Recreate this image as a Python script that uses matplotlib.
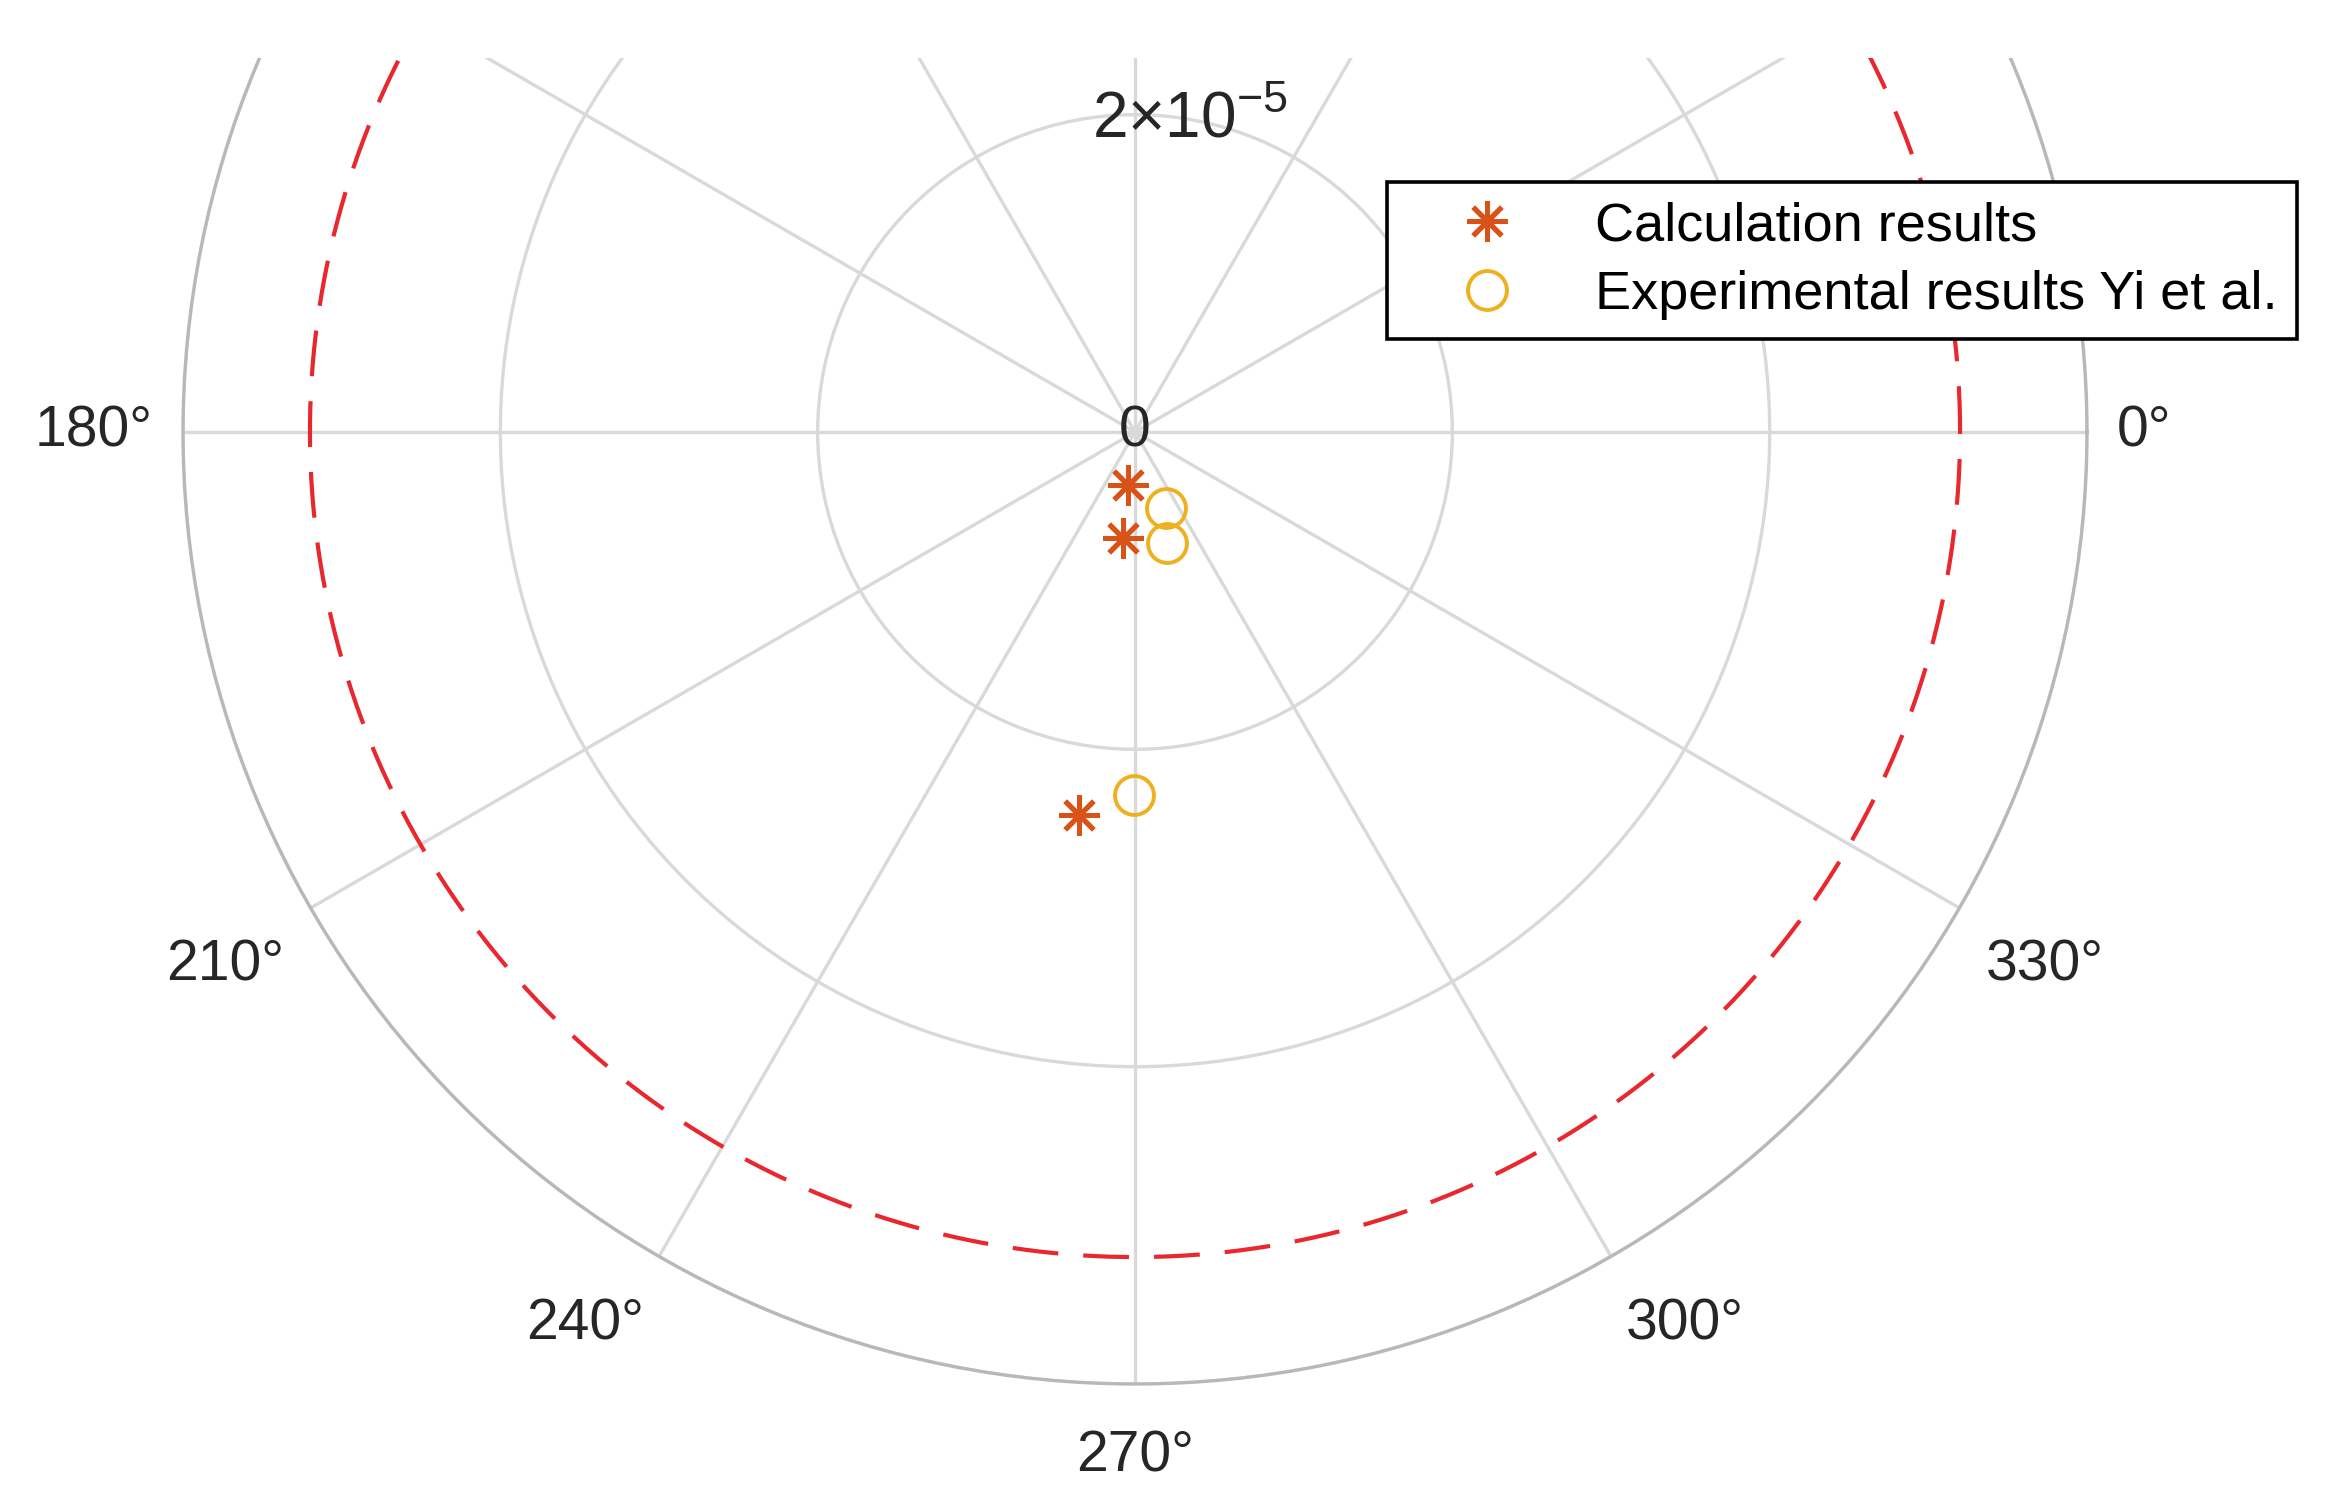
import numpy as np
import matplotlib.pyplot as plt
from matplotlib.patches import Rectangle

plt.rcParams['font.family'] = ['Liberation Sans', 'DejaVu Sans']
plt.rcParams['mathtext.fontset'] = 'custom'
plt.rcParams['mathtext.rm'] = 'Liberation Sans'

# angles in degrees, radii
calc_theta = [262.5, 263.5, 261.7]
calc_r = [3.37e-6, 6.72e-6, 2.44e-5]
exp_theta = [292.2, 286.1, 269.8]
exp_r = [5.17e-6, 7.28e-6, 2.29e-5]
limit_r = 5.2e-5  # red dashed circle

r_ticks = [2e-5, 4e-5, 6e-5]
r_label = r'$2{\times}10^{-5}$'  # only the first ring label is in frame
theta_ticks = list(range(0, 360, 30))
theta_shown = [0, 180, 210, 240, 270, 300, 330]  # the rest fall off the top

fig = plt.figure(figsize=(23.39, 15.06), dpi=100)
ax = fig.add_axes([0.07824, 0.08101, 0.81403, 1.26428], projection='polar')

ax.set_rlim(0, 6e-5)
ax.set_rticks(r_ticks)
ax.set_yticklabels([])
ax.set_thetagrids(theta_ticks, labels=[''] * len(theta_ticks))
ax.grid(color='#d9d9d9', linewidth=2.4)
ax.spines['polar'].set_color('#b8b8b8')
ax.spines['polar'].set_linewidth(2.4)

# limit circle
th = np.linspace(0, 2 * np.pi, 720)
ax.plot(th, np.full_like(th, limit_r), color='#e8282e', linewidth=3,
        dashes=(11, 6))

ax.plot(np.deg2rad(calc_theta), calc_r, linestyle='none', marker=(8, 2, 0),
        markersize=29, markeredgewidth=3.6, color='#D95319',
        label='Calculation results', zorder=5)
ax.plot(np.deg2rad(exp_theta), exp_r, linestyle='none', marker='o',
        markersize=28, markerfacecolor='none', markeredgewidth=2.8,
        markeredgecolor='#EDB120', label='Experimental results Yi et al.',
        zorder=5)

# angle labels just outside the outer ring
gap = 21.6
for t in theta_shown:
    c, s = np.cos(np.deg2rad(t)), np.sin(np.deg2rad(t))
    ha = 'left' if c > 0.01 else ('right' if c < -0.01 else 'center')
    va = 'bottom' if s > 0.01 else ('top' if s < -0.01 else 'center')
    dy = gap * s - (11 if va == 'top' else 0)
    ax.annotate(f'{t}°', xy=(np.deg2rad(t), 6e-5), xytext=(gap * c, dy),
                textcoords='offset points', ha=ha, va=va, fontsize=41,
                color='#262626', annotation_clip=False)

# radial labels along 80 deg
ax.text(0, 0, '0', ha='center', va='center', fontsize=41, color='#262626',
        zorder=4)
ax.text(np.deg2rad(80), r_ticks[0], r_label, ha='center', va='center',
        fontsize=46, color='#262626')

leg = ax.legend(loc='upper right', bbox_to_anchor=(0.982, 0.879),
                bbox_transform=fig.transFigure, fontsize=39, fancybox=False,
                framealpha=1, edgecolor='black', borderpad=0.35,
                labelspacing=0.35, handletextpad=0.5, handlelength=3.0,
                borderaxespad=0)
leg.get_frame().set_linewidth(2.6)

# top of the picture is cut off
fig.patches.append(Rectangle((0, 1 - 58 / 1506), 1, 58 / 1506,
                             transform=fig.transFigure, facecolor='white',
                             edgecolor='none', zorder=10))

fig.savefig('out.png', dpi=100)
